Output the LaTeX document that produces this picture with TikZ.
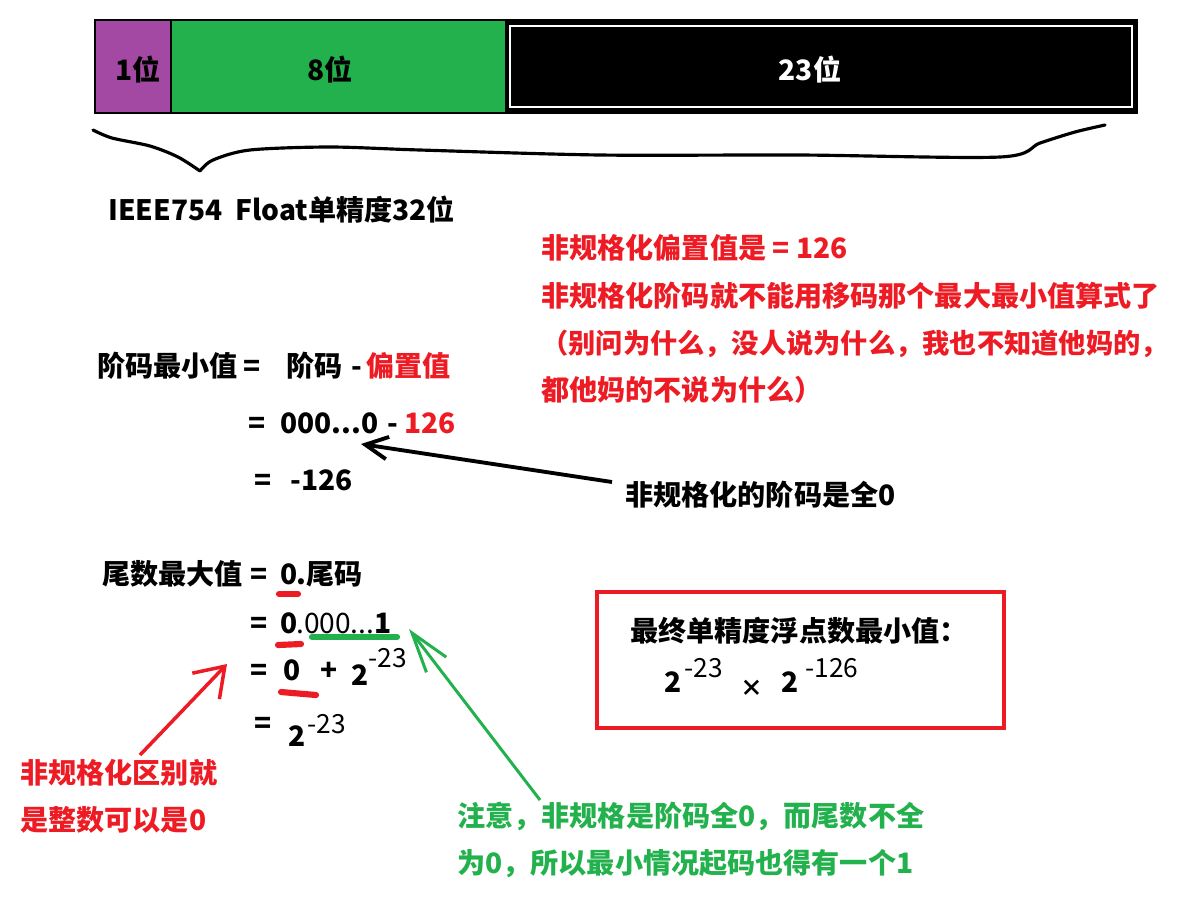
\documentclass[tikz,border=0pt]{standalone}
\usepackage{fontspec}
\setmainfont{Noto Sans CJK SC}
\usetikzlibrary{arrows.meta}
\definecolor{bitpurple}{RGB}{163,73,164}
\definecolor{bitgreen}{RGB}{34,177,76}
\definecolor{notered}{RGB}{237,28,36}
\tikzset{
  txt/.style={anchor=west, inner sep=0pt, text height=13pt, text depth=3pt,
    font=\fontsize{16}{16}\selectfont\bfseries},
  redtxt/.style={txt, text=notered},
  greentxt/.style={txt, text=bitgreen},
  suptxt/.style={anchor=west, inner sep=0pt, text height=11pt, text depth=0pt,
    font=\fontsize{15}{15}\selectfont},
  bitcell/.style={inner sep=0pt, font=\fontsize{16}{16}\selectfont\bfseries},
  uline/.style={line width=3.5pt, line cap=round},
  blackarrow/.style={-{Straight Barb[length=0.45cm, width=0.45cm]}, line width=2.2pt},
  redarrow/.style={-{Straight Barb[length=0.55cm, width=0.75cm]}, line width=2pt, notered},
  greenarrow/.style={-{Straight Barb[length=0.8cm, width=0.5cm]}, line width=1.7pt, bitgreen}
}
\begin{document}
\begin{tikzpicture}[x=0.02cm, y=-0.02cm]
  \useasboundingbox (0,0) rectangle (1179,904);
  % Bit-Aufteilung
  \fill[bitpurple] (95,20) rectangle (171,113);
  \fill[bitgreen] (171,20) rectangle (505,113);
  \fill[black] (505,20) rectangle (1137,113);
  \draw[white, line width=1.6pt] (510,26) rectangle (1132,107);
  \draw[line width=1.6pt] (95,20) rectangle (1137,113);
  \draw[line width=1.6pt] (171,20) -- (171,113);
  \node[bitcell] (sign) at (138,70) {1位};
  \node[bitcell] (expo) at (330,70) {8位};
  \node[bitcell, text=white] (mant) at (810,70) {23位};

  % Klammer
  \draw[line width=1.8pt, line cap=round, line join=round]
    plot[smooth, tension=0.5] coordinates {(93,130) (112,138) (150,146) (178,157) (200,171)}
    plot[smooth, tension=0.5] coordinates {(200,171) (213,160) (250,150) (330,147) (420,150) (600,155) (800,155) (1000,157) (1040,143) (1075,132) (1105,125)};
  \node[txt] (title) at (108,212) {IEEE754\ \ Float单精度32位};

  % Hinweis oben rechts
  \node[redtxt] (bias) at (541,250) {非规格化偏置值是 = 126};
  \node[redtxt] (rule) at (541,298) {非规格化阶码就不能用移码那个最大最小值算式了};
  \node[redtxt, font=\fontsize{15.5}{15.5}\selectfont\bfseries] (why1) at (541,345) {（别问为什么，没人说为什么，我也不知道他妈的，};
  \node[redtxt] (why2) at (541,392) {都他妈的不说为什么）};

  % Exponent
  \node[txt] (emin) at (97,368) {阶码最小值};
  \node[txt] (eq1) at (243,368) {=};
  \node[txt] (ecode) at (286,368) {阶码};
  \node[txt] (minus1) at (351,368) {-};
  \node[redtxt] (ebias) at (366,368) {偏置值};
  \node[txt] (eq2) at (248,425) {=};
  \node[txt] (ezero) at (280,425) {000...0};
  \node[txt] (minus2) at (387,425) {-};
  \node[redtxt] (e126) at (404,425) {126};
  \node[txt] (eq3) at (254,482) {=};
  \node[txt] (eres) at (290,482) {-126};
  \node[txt] (note0) at (625,497) {非规格化的阶码是全0};
  \coordinate (etip) at (361,444);
  \coordinate (etail) at (612,482);
  \draw[blackarrow] (etail) -- (etip);

  % Mantisse
  \node[txt] (mmax) at (102,576) {尾数最大值};
  \node[txt] (eq4) at (250,576) {=};
  \node[txt] (mz1) at (280,576) {0};
  \node[txt] (mcode) at (296,576) {.尾码};
  \node[txt] (eq5) at (250,625) {=};
  \node[txt] (mz2) at (280,625) {0};
  \node[txt, font=\fontsize{16}{16}\selectfont] (mbits) at (296,625) {.000...\textbf{1}};
  \node[txt] (eq6) at (250,672) {=};
  \node[txt] (mz3) at (283,672) {0};
  \node[txt] (plus) at (320,672) {+};
  \node[txt] (two1) at (351,677) {2};
  \node[suptxt] (exp1) at (368,658) {-23};
  \node[txt] (eq7) at (254,725) {=};
  \node[txt] (two2) at (288,738) {2};
  \node[suptxt] (exp2) at (307,724) {-23};
  \draw[uline, notered] (279,594) -- (298,594);
  \draw[uline, notered] (278,645) -- (301,644);
  \draw[uline, bitgreen] (312,637) -- (397,637);
  \draw[uline, notered] (281,692) -- (316,695);

  % Pfeile
  \coordinate (rtip) at (227,664);
  \coordinate (rtail) at (140,755);
  \draw[redarrow] (rtail) -- (rtip);
  \coordinate (gtip) at (409,629);
  \coordinate (gtail) at (540,800);
  \draw[greenarrow] (gtail) -- (gtip);
  \node[redtxt] (diff1) at (20,775) {非规格化区别就};
  \node[redtxt] (diff2) at (20,822) {是整数可以是0};
  \node[greentxt] (hint1) at (457,818) {注意，非规格是阶码全0，而尾数不全};
  \node[greentxt] (hint2) at (457,865) {为0，所以最小情况起码也得有一个1};

  % Ergebnis
  \draw[notered, line width=1.8pt] (597,592) rectangle (1004,728);
  \node[txt] (result) at (630,633) {最终单精度浮点数最小值：};
  \node[txt] (two3) at (664,684) {2};
  \node[suptxt] (exp3) at (684,668) {-23};
  \node[txt, font=\fontsize{13}{13}\selectfont\bfseries] (times) at (740,688) {×};
  \node[txt] (two4) at (781,684) {2};
  \node[suptxt] (exp4) at (805,668) {-126};
\end{tikzpicture}
\end{document}
